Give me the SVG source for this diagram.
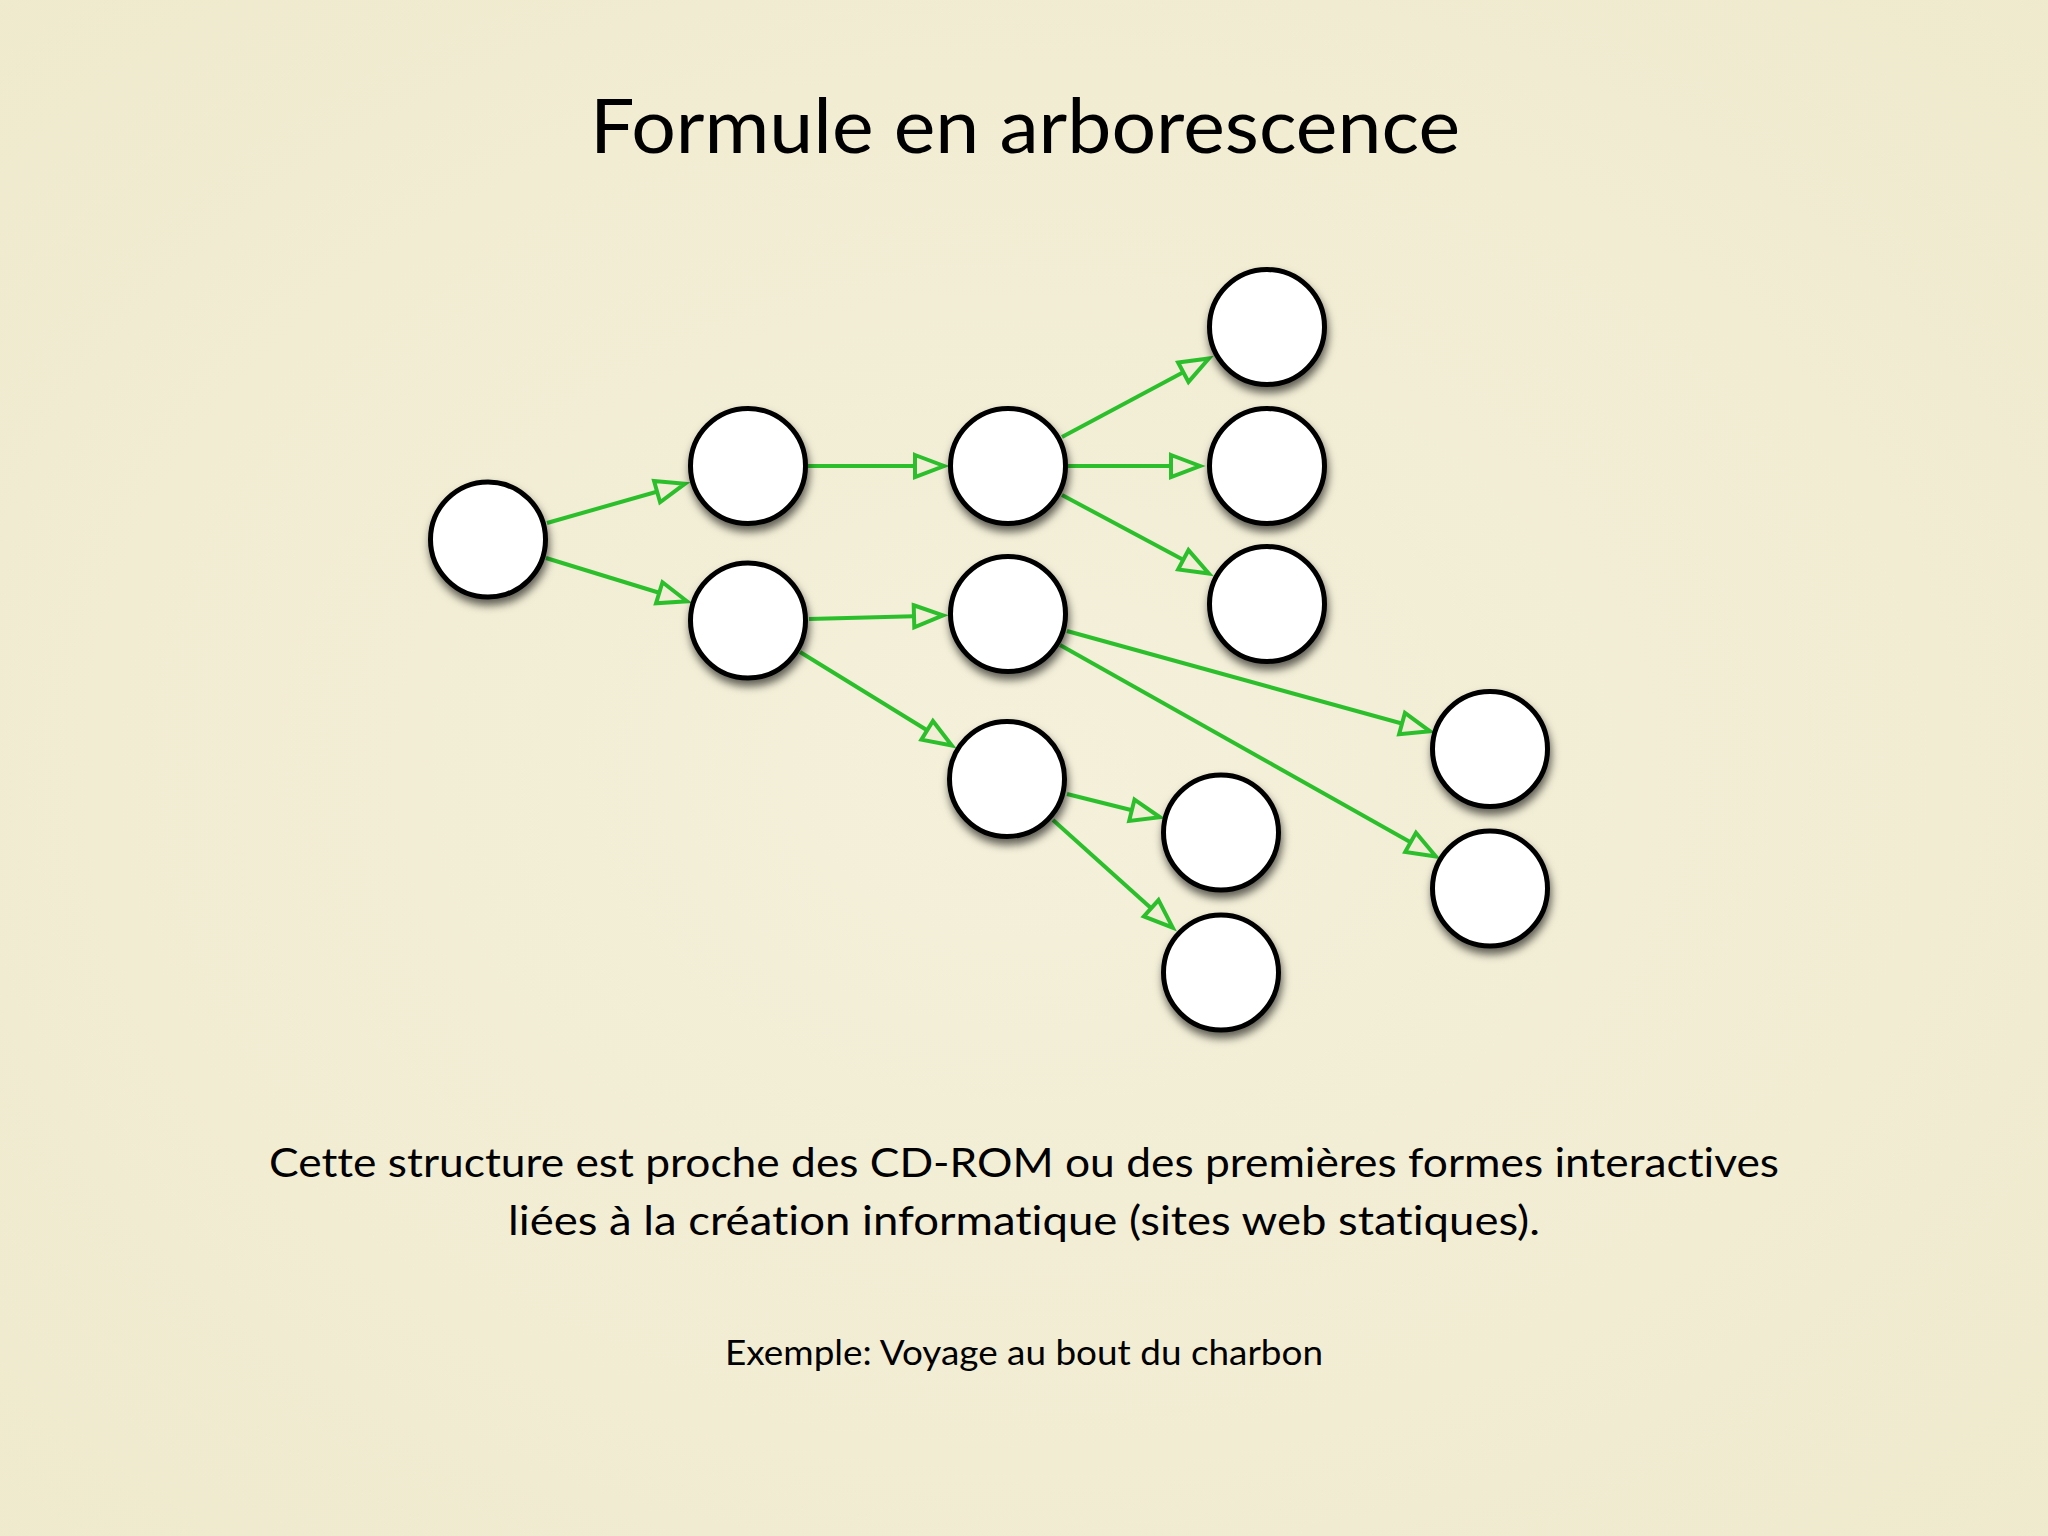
<svg xmlns="http://www.w3.org/2000/svg" width="2048" height="1536" viewBox="0 0 2048 1536">
  <defs>
    <radialGradient id="bg" cx="50%" cy="50%" r="75%">
      <stop offset="0" stop-color="#f4f0da"/>
      <stop offset="1" stop-color="#efeacd"/>
    </radialGradient>
    <filter id="shadow" x="-30%" y="-30%" width="160%" height="170%">
      <feDropShadow dx="1.5" dy="6" stdDeviation="4" flood-color="#000" flood-opacity="0.6"/>
    </filter>
    <marker id="arrow" markerUnits="userSpaceOnUse" markerWidth="44" markerHeight="44" viewBox="-4 -4 44 44" refX="29" refY="12" orient="auto">
      <path d="M1,1 L30,12 L1,23 Z" fill="#f2eed5" stroke="#2cbf2c" stroke-width="4" stroke-linejoin="miter"/>
    </marker>
  </defs>
  <style>
    .node { fill: #ffffff; stroke: #000000; stroke-width: 5; filter: url(#shadow); }
    .edge { stroke: #2cbf2c; stroke-width: 4; fill: none; marker-end: url(#arrow); }
    .txt { font-family: Lato, "Liberation Sans", sans-serif; fill: #000000; text-anchor: middle; font-variant-ligatures: none; }
  </style>
  <rect x="0" y="0" width="2048" height="1536" fill="url(#bg)"/>

  <text class="txt" x="1025" y="153" font-size="75" textLength="870" lengthAdjust="spacingAndGlyphs">Formule en arborescence</text>

  <g id="connectors">
    <line class="edge" x1="547" y1="523" x2="684" y2="484"/>
    <line class="edge" x1="546" y1="558" x2="686" y2="601"/>
    <line class="edge" x1="808" y1="466" x2="943" y2="466"/>
    <line class="edge" x1="809" y1="619" x2="942" y2="615.5"/>
    <line class="edge" x1="800" y1="652" x2="951" y2="745"/>
    <line class="edge" x1="1062" y1="437" x2="1208" y2="359"/>
    <line class="edge" x1="1068" y1="466" x2="1199" y2="466"/>
    <line class="edge" x1="1062" y1="495" x2="1208" y2="573"/>
    <line class="edge" x1="1067" y1="631" x2="1429" y2="731"/>
    <line class="edge" x1="1060" y1="645" x2="1435" y2="856"/>
    <line class="edge" x1="1067" y1="794" x2="1159" y2="817"/>
    <line class="edge" x1="1053" y1="820" x2="1172" y2="927"/>
  </g>

  <g id="n1"><circle class="node" cx="488" cy="539.5" r="57.5"/></g>
  <g id="n2"><circle class="node" cx="748" cy="466" r="57.5"/></g>
  <g id="n3"><circle class="node" cx="748" cy="620.5" r="57.5"/></g>
  <g id="n4"><circle class="node" cx="1008" cy="466" r="57.5"/></g>
  <g id="n5"><circle class="node" cx="1008" cy="614" r="57.5"/></g>
  <g id="n6"><circle class="node" cx="1007" cy="779" r="57.5"/></g>
  <g id="n7"><circle class="node" cx="1267" cy="327" r="57.5"/></g>
  <g id="n8"><circle class="node" cx="1267" cy="466" r="57.5"/></g>
  <g id="n9"><circle class="node" cx="1267" cy="604" r="57.5"/></g>
  <g id="n10"><circle class="node" cx="1490" cy="749" r="57.5"/></g>
  <g id="n11"><circle class="node" cx="1490" cy="888.5" r="57.5"/></g>
  <g id="n12"><circle class="node" cx="1221" cy="832.5" r="57.5"/></g>
  <g id="n13"><circle class="node" cx="1221" cy="972.5" r="57.5"/></g>

  <text class="txt" x="1024" y="1177" font-size="41" textLength="1510" lengthAdjust="spacingAndGlyphs">Cette structure est proche des CD-ROM ou des premières formes interactives</text>
  <text class="txt" x="1024" y="1235" font-size="41" textLength="1032" lengthAdjust="spacingAndGlyphs">liées à la création informatique (sites web statiques).</text>
  <text class="txt" x="1024" y="1365" font-size="35" textLength="598" lengthAdjust="spacingAndGlyphs">Exemple: Voyage au bout du charbon</text>
</svg>
